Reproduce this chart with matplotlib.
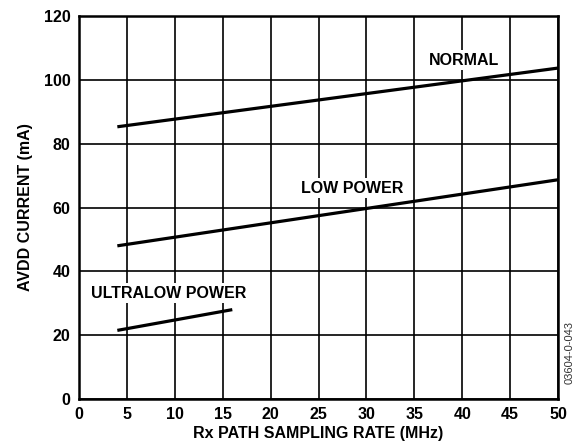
import matplotlib
matplotlib.use("Agg")
import matplotlib.pyplot as plt

plt.rcParams['font.family'] = ['Liberation Sans', 'DejaVu Sans']
plt.rcParams['font.weight'] = 'bold'

normal_x = [4, 50]
normal_y = [85.3, 103.7]
low_x = [4, 50]
low_y = [48.0, 68.7]
ultra_x = [4, 16]
ultra_y = [21.5, 28.0]
xticks = [0, 5, 10, 15, 20, 25, 30, 35, 40, 45, 50]
yticks = [0, 20, 40, 60, 80, 100, 120]

fs = 11.5
fig = plt.figure(figsize=(5.78, 4.46), dpi=100)
ax = fig.add_axes([0.1367, 0.1054, 0.8287, 0.8586])
ax.set_xlim(0, 50)
ax.set_ylim(0, 120)
ax.set_xticks(xticks)
ax.set_yticks(yticks)
ax.grid(True, color='black', linewidth=1.2)
ax.set_axisbelow(True)
for s in ax.spines.values():
    s.set_linewidth(1.8)
ax.tick_params(length=0, labelsize=fs, pad=6)
for lab in ax.get_xticklabels() + ax.get_yticklabels():
    lab.set_fontweight('bold')

lw = 2.3
ax.plot(normal_x, normal_y, color='black', lw=lw, solid_capstyle='butt', zorder=3)
ax.plot(low_x, low_y, color='black', lw=lw, solid_capstyle='butt', zorder=3)
ax.plot(ultra_x, ultra_y, color='black', lw=lw, solid_capstyle='butt', zorder=3)

bbox = dict(facecolor='white', edgecolor='none', pad=2)
ax.text(40.2, 106.2, 'NORMAL', ha='center', va='center', fontsize=fs, fontweight='bold', bbox=bbox, zorder=4)
ax.text(28.5, 66.1, 'LOW POWER', ha='center', va='center', fontsize=fs, fontweight='bold', bbox=bbox, zorder=4)
ax.text(9.4, 33.2, 'ULTRALOW POWER', ha='center', va='center', fontsize=fs, fontweight='bold', bbox=bbox, zorder=4)

ax.set_xlabel('Rx PATH SAMPLING RATE (MHz)', fontsize=fs, fontweight='bold', labelpad=3)
ax.set_ylabel('AVDD CURRENT (mA)', fontsize=fs, fontweight='bold', labelpad=8)

fig.text(0.986, 0.21, '03604-0-043', rotation=90, fontsize=8, fontweight='normal', ha='center', va='center', color='#333333')

fig.savefig('out.png', dpi=100)
